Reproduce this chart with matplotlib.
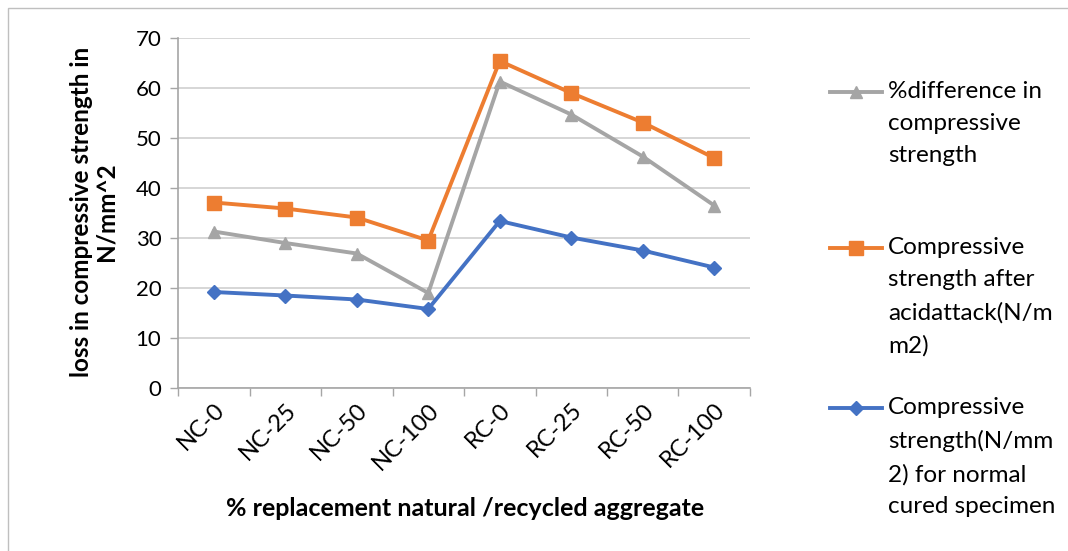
import matplotlib
matplotlib.use("Agg")
import matplotlib.pyplot as plt
from matplotlib.lines import Line2D
from matplotlib.patches import Rectangle

categories = ["NC-0", "NC-25", "NC-50", "NC-100", "RC-0", "RC-25", "RC-50", "RC-100"]
pct_difference = [31.3, 29.0, 26.9, 19.0, 61.3, 54.7, 46.3, 36.5]
after_acid = [37.1, 35.9, 34.1, 29.5, 65.4, 59.0, 53.1, 46.0]
normal_cured = [19.2, 18.5, 17.7, 15.8, 33.4, 30.1, 27.5, 24.1]

labels = [
    "%difference in\ncompressive\nstrength",
    "Compressive\nstrength after\nacidattack(N/m\nm2)",
    "Compressive\nstrength(N/mm\n2) for normal\ncured specimen",
]
colors = ["#A5A5A5", "#ED7D31", "#4472C4"]
markers = ["^", "s", "D"]
msizes = [9, 10, 7]

plt.rcParams["font.family"] = ["Lato", "DejaVu Sans"]

W, H = 1068, 551
fig = plt.figure(figsize=(W / 100, H / 100), dpi=100)
ax = fig.add_axes([178 / W, 1 - 388 / H, (750 - 178) / W, (388 - 38) / H])

x = list(range(len(categories)))
series = [pct_difference, after_acid, normal_cured]
for vals, c, m, ms in zip(series, colors, markers, msizes):
    ax.plot(x, vals, color=c, lw=2.8, marker=m, markersize=ms, zorder=3)

ax.set_xlim(-0.5, len(categories) - 0.5)
ax.set_ylim(0, 70)
ax.set_yticks(range(0, 71, 10))
ax.set_xticks(x)
ax.set_xticklabels(categories, rotation=45, ha="right", rotation_mode="anchor", fontsize=17)
ax.set_xticks([i - 0.5 for i in range(len(categories) + 1)], minor=True)
ax.tick_params(axis="x", which="major", length=0, pad=8)
ax.tick_params(axis="x", which="minor", length=6, color="#A6A6A6", width=1)
ax.tick_params(axis="y", length=6, color="#A6A6A6", width=1, labelsize=16, pad=6)
ax.grid(axis="y", color="#D0D0D0", lw=1.2)
ax.set_axisbelow(True)
for s in ["top", "right"]:
    ax.spines[s].set_visible(False)
for s in ["left", "bottom"]:
    ax.spines[s].set_color("#A6A6A6")
    ax.spines[s].set_linewidth(1.2)

fig.text(465 / W, 1 - 508 / H, "% replacement natural /recycled aggregate",
         ha="center", va="center", fontsize=18, fontweight="bold")
fig.text(94 / W, 1 - 212 / H, "loss in compressive strength in\nN/mm^2", rotation=90,
         ha="center", va="center", fontsize=17.5, fontweight="bold", linespacing=1.1)

# legend entries drawn at fixed vertical positions; handle sits on the first text line
entry_tops = [92, 248, 408]
for lab, c, m, ms, y in zip(labels, colors, markers, msizes, entry_tops):
    yf = 1 - y / H
    fig.add_artist(Line2D([830 / W, 882 / W], [yf, yf], color=c, lw=2.8, transform=fig.transFigure))
    fig.add_artist(Line2D([856 / W], [yf], color=c, marker=m, markersize=ms, transform=fig.transFigure))
    fig.text(888 / W, 1 - (y - 11) / H, lab, ha="left", va="top", fontsize=17.5, linespacing=1.66)

fig.add_artist(Rectangle((8 / W, -0.1), 1.2, 1 - 8 / H + 0.1, transform=fig.transFigure,
                         fill=False, edgecolor="#BFBFBF", lw=1))

fig.savefig("out.png", dpi=100)
